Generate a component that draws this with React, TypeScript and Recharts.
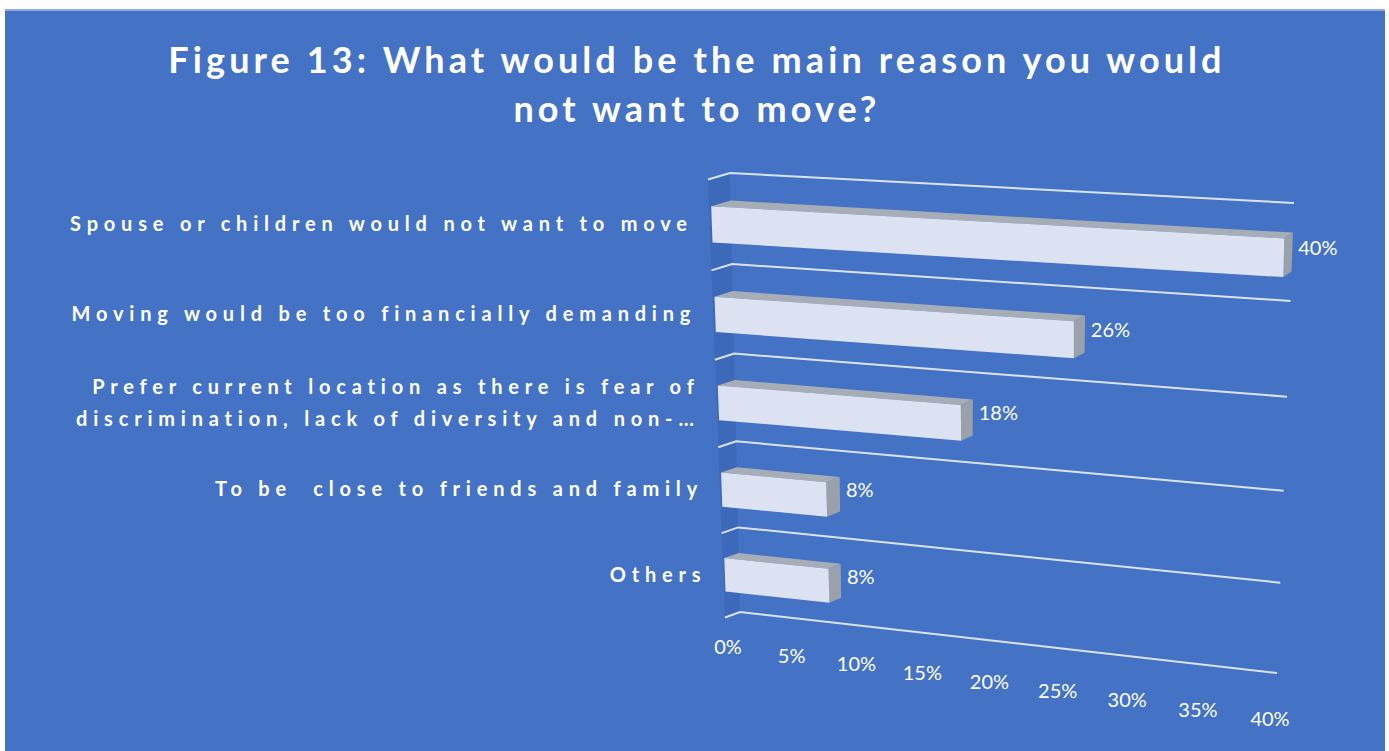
import React from "react";
import { BarChart, Bar, XAxis, YAxis, CartesianGrid, LabelList } from "recharts";

const categories = [
  "Spouse or children would not want to move",
  "Moving would be too financially demanding",
  "Prefer current location as there is fear of discrimination, lack of diversity and non-…",
  "To be  close to friends and family",
  "Others",
];
const labelLines: string[][] = [
  ["Spouse or children would not want to move"],
  ["Moving would be too financially demanding"],
  ["Prefer current location as there is fear of", "discrimination, lack of diversity and non-…"],
  ["To be  close to friends and family"],
  ["Others"],
];
const shares = [0.4, 0.26, 0.18, 0.08, 0.08];
const valueTicks = [0, 0.05, 0.1, 0.15, 0.2, 0.25, 0.3, 0.35, 0.4];
const titleLines = ["Figure 13: What would be the main reason you would", "not want to move?"];

const data = categories.map((name, i) => ({ name, share: shares[i] }));

const W = 1389;
const H = 751;
const MARGIN = { top: 20, right: 20, bottom: 10, left: 0 };
const Y_AXIS_W = 200;
const X_AXIS_H = 40;
const PX0 = MARGIN.left + Y_AXIS_W;
const PX1 = W - MARGIN.right;
const PY0 = MARGIN.top;
const PY1 = H - MARGIN.bottom - X_AXIS_H;

const BG = "#4472C4";
const FONT = "Lato, 'Open Sans', sans-serif";

// back wall of the 3D plot as seen on screen: u runs along values, v down the categories
const WALL = { tl: [730, 173], tr: [1294, 203], br: [1277, 673], bl: [740, 612] };

function makeHomography(q: typeof WALL) {
  const [x0, y0] = q.tl;
  const [x1, y1] = q.tr;
  const [x2, y2] = q.br;
  const [x3, y3] = q.bl;
  const dx1 = x1 - x2, dx2 = x3 - x2, dx3 = x0 - x1 + x2 - x3;
  const dy1 = y1 - y2, dy2 = y3 - y2, dy3 = y0 - y1 + y2 - y3;
  const den = dx1 * dy2 - dx2 * dy1;
  const g = (dx3 * dy2 - dx2 * dy3) / den;
  const h = (dx1 * dy3 - dx3 * dy1) / den;
  const a = x1 - x0 + g * x1, b = x3 - x0 + h * x3, c = x0;
  const d = y1 - y0 + g * y1, e = y3 - y0 + h * y3, f = y0;
  return (u: number, v: number): [number, number] => {
    const w = g * u + h * v + 1;
    return [(a * u + b * v + c) / w, (d * u + e * v + f) / w];
  };
}

const back = makeHomography(WALL);
const depth = (u: number, v: number): [number, number] => [-22 + 7 * v + 12 * u, 6.5 - v];
const toU = (x: number) => (x - PX0) / (PX1 - PX0);
const toV = (y: number) => (y - PY0) / (PY1 - PY0);

function front(u: number, v: number, k = 0.9): [number, number] {
  const [bx, by] = back(u, v);
  const [dx, dy] = depth(u, v);
  return [bx + k * dx, by + k * dy];
}

const pts = (list: [number, number][]) => list.map((p) => `${p[0].toFixed(1)},${p[1].toFixed(1)}`).join(" ");

function Bar3D(props: any) {
  const { x, y, width, height } = props;
  if (width == null || height == null) return null;
  const u0 = toU(x), u1 = toU(x + width);
  const v0 = toV(y), v1 = toV(y + height);
  const bTL = back(u0, v0), bTR = back(u1, v0), bBR = back(u1, v1);
  const fTL = front(u0, v0), fTR = front(u1, v0), fBR = front(u1, v1), fBL = front(u0, v1);
  return (
    <g>
      <polygon points={pts([fTL, fTR, bTR, bTL])} fill="#A7ADB7" />
      <polygon points={pts([fTR, bTR, bBR, fBR])} fill="#9AA1AB" />
      <polygon points={pts([fTL, fTR, fBR, fBL])} fill="#DCE2F2" />
    </g>
  );
}

function GridLine3D(props: any) {
  const v = toV(props.y1);
  const k = front(0, v, 1);
  const s = back(0, v);
  const e = back(1, v);
  const wall =
    props.index === 0 ? (
      <polygon points={pts([front(0, 0, 1), back(0, 0), back(0, 1), front(0, 1, 1)])} fill="#3D69BA" />
    ) : null;
  return (
    <g>
      {wall}
      <polyline points={pts([k, s, e])} fill="none" stroke="#DDE3EC" strokeWidth={2} />
    </g>
  );
}

function CategoryTick(props: any) {
  const { y, payload, index } = props;
  const v = toV(y);
  const [fx, fy] = front(0, v, 1);
  const lines = labelLines[index] ?? [String(payload?.value ?? "")];
  const lh = 32;
  const top = fy - 1 - ((lines.length - 1) * lh) / 2;
  return (
    <g>
      {lines.map((t, i) => (
        <text
          key={i}
          x={fx - 17}
          y={top + i * lh}
          dy="0.35em"
          textAnchor="end"
          fill="#FFFFFF"
          fontFamily={FONT}
          fontWeight={700}
          fontSize={20}
          letterSpacing={5.8}
          style={{ whiteSpace: "pre" }}
        >
          {t}
        </text>
      ))}
    </g>
  );
}

function ValueTick(props: any) {
  const { x, payload } = props;
  const u = toU(x);
  const [bx, by] = back(u, 1);
  return (
    <text
      x={bx - 12 + 5 * u}
      y={by + 35 + 11 * u}
      dy="0.35em"
      textAnchor="middle"
      fill="#FFFFFF"
      fontFamily={FONT}
      fontSize={20}
    >
      {`${Math.round(payload.value * 100)}%`}
    </text>
  );
}

function ValueLabel(props: any) {
  const vb = props.viewBox ?? {};
  const x = props.x ?? vb.x;
  const y = props.y ?? vb.y;
  const width = props.width ?? vb.width;
  const height = props.height ?? vb.height;
  if (x == null || width == null) return null;
  const u = toU(x + width);
  const v = toV(y + height / 2);
  const [bx, by] = back(u, v);
  return (
    <text x={bx + 6} y={by - 4} dy="0.35em" textAnchor="start" fill="#FFFFFF" fontFamily={FONT} fontSize={20}>
      {`${Math.round(Number(props.value) * 100)}%`}
    </text>
  );
}

export default function App() {
  return (
    <div style={{ position: "absolute", left: 0, top: 0, width: W, height: H, background: "#FFFFFF" }}>
      <div
        style={{
          position: "absolute",
          left: 5,
          top: 9,
          width: 1380,
          height: 742,
          background: BG,
          borderTop: "2px solid #8FAADC",
          boxSizing: "border-box",
        }}
      />
      <svg width={W} height={150} style={{ position: "absolute", left: 0, top: 0 }}>
        {titleLines.map((t, i) => (
          <text
            key={i}
            x={697}
            y={73 + i * 49}
            textAnchor="middle"
            fill="#FFFFFF"
            fontFamily={FONT}
            fontWeight={700}
            fontSize={36}
            letterSpacing={4.1}
          >
            {t}
          </text>
        ))}
      </svg>
      <div style={{ position: "absolute", left: 0, top: 0 }}>
        <BarChart
          width={W}
          height={H}
          data={data}
          layout="vertical"
          margin={MARGIN}
          barCategoryGap="30%"
        >
          <CartesianGrid
            vertical={false}
            horizontalCoordinatesGenerator={({ offset }: any) =>
              categories.concat("").map((_, i) => offset.top + (i * offset.height) / categories.length)
            }
            horizontal={(p: any) => <GridLine3D key={p.key ?? p.index} {...p} />}
          />
          <XAxis
            type="number"
            domain={[0, 0.4]}
            ticks={valueTicks}
            height={X_AXIS_H}
            axisLine={false}
            tickLine={false}
            interval={0}
            tick={(p: any) => <ValueTick key={p.index} {...p} />}
          />
          <YAxis
            type="category"
            dataKey="name"
            width={Y_AXIS_W}
            axisLine={false}
            tickLine={false}
            interval={0}
            tick={(p: any) => <CategoryTick key={p.index} {...p} />}
          />
          <Bar dataKey="share" isAnimationActive={false} shape={(p: any) => <Bar3D {...p} />}>
            <LabelList dataKey="share" content={(p: any) => <ValueLabel {...p} />} />
          </Bar>
        </BarChart>
      </div>
    </div>
  );
}
